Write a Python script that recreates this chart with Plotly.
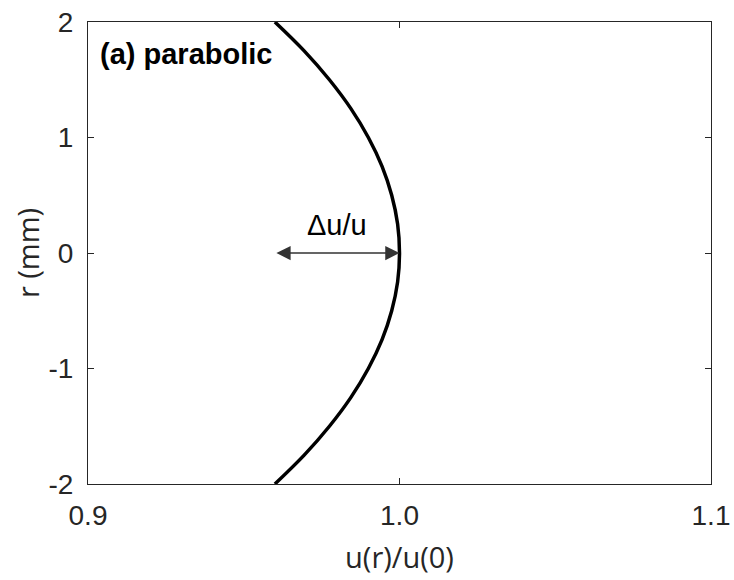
import plotly.graph_objects as go

# radial position (mm) and normalised velocity
r_mm = [-2.0, -1.75, -1.5, -1.25, -1.0, -0.75, -0.5, -0.25, 0.0,
        0.25, 0.5, 0.75, 1.0, 1.25, 1.5, 1.75, 2.0]
u_ratio = [0.960, 0.9694, 0.9775, 0.9844, 0.990, 0.9944, 0.9975, 0.9994, 1.000,
           0.9994, 0.9975, 0.9944, 0.990, 0.9844, 0.9775, 0.9694, 0.960]

x_ticks = [0.9, 1.0, 1.1]
x_tick_labels = ["0.9", "1.0", "1.1"]
y_ticks = [-2, -1, 0, 1, 2]
y_tick_labels = ["-2", "-1", "0", "1", "2"]

arrow_start = 0.96
arrow_end = 1.0

font_family = "Liberation Sans, Arial, sans-serif"
title_family = "Open Sans, Liberation Sans, sans-serif"

fig = go.Figure()
fig.add_trace(go.Scatter(x=u_ratio, y=r_mm, mode="lines",
                         line=dict(color="black", width=3.5, shape="spline"),
                         showlegend=False, hoverinfo="skip"))

axis_common = dict(showgrid=False, zeroline=False, showline=True, linecolor="#262626",
                   linewidth=1, mirror="ticks", ticks="inside", ticklen=6,
                   tickcolor="#262626", tickwidth=1, automargin=False,
                   tickfont=dict(family=font_family, size=28, color="#262626"))

fig.update_xaxes(range=[0.9, 1.1], tickvals=x_ticks, ticktext=x_tick_labels,
                 ticklabelstandoff=6,
                 title=dict(text="u(r)/u(0)", font=dict(family=title_family, size=29, color="#262626"),
                            standoff=18),
                 **axis_common)
fig.update_yaxes(range=[-2, 2], tickvals=y_ticks, ticktext=y_tick_labels,
                 ticklabelstandoff=8,
                 title=dict(text="r (mm)", font=dict(family=title_family, size=29, color="#262626"),
                            standoff=0),
                 **axis_common)

# double-headed arrow
fig.add_annotation(x=arrow_end, y=0, ax=arrow_start, ay=0, xref="x", yref="y",
                   axref="x", ayref="y", text="", showarrow=True,
                   arrowhead=2, startarrowhead=2, arrowside="end+start",
                   arrowsize=1.9, startarrowsize=1.9, arrowwidth=1.5, arrowcolor="#333333")
fig.add_annotation(x=(arrow_start + arrow_end) / 2, y=0, xref="x", yref="y",
                   yshift=28, text="Δu/u", showarrow=False,
                   font=dict(family=font_family, size=29, color="black"))
fig.add_annotation(x=0, y=1, xref="paper", yref="paper", xanchor="left", yanchor="top",
                   xshift=10, yshift=-14, text="<b>(a) parabolic</b>", showarrow=False,
                   font=dict(family=font_family, size=29, color="black"))

fig.update_layout(width=734, height=580, margin=dict(l=88, r=23, t=22, b=96),
                  plot_bgcolor="white", paper_bgcolor="white")

fig.write_html("out.html")
